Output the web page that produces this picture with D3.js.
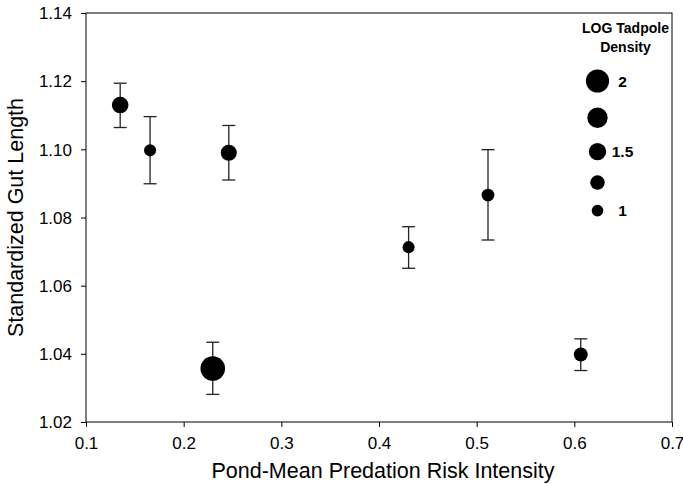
<!DOCTYPE html>
<html><head><meta charset="utf-8">
<script src="https://cdn.jsdelivr.net/npm/d3@7"></script>
<style>body{margin:0;background:#fff}svg{display:block}text{font-family:"Liberation Sans",Arial,sans-serif}</style>
</head><body>
<script>
const riskIntensity = [0.135, 0.1656, 0.2462, 0.2298, 0.4303, 0.5116, 0.6066];
const gutLength     = [1.1130, 1.0997, 1.0990, 1.0357, 1.0713, 1.0866, 1.0398];
const errUpper      = [1.1194, 1.1096, 1.1070, 1.0434, 1.0773, 1.0999, 1.0444];
const errLower      = [1.1064, 1.0899, 1.0910, 1.0281, 1.0651, 1.0734, 1.0351];
const logDensity    = [1.43, 1.04, 1.38, 2.12, 1.04, 1.1, 1.2];
const xTicks = [0.1, 0.2, 0.3, 0.4, 0.5, 0.6, 0.7];
const yTicks = [1.02, 1.04, 1.06, 1.08, 1.10, 1.12, 1.14];
const legendValues = [2, 1.75, 1.5, 1.25, 1];
const legendLabels = ["2", "", "1.5", "", "1"];

const W = 683, H = 484;
const m = {l: 86, r: 11, t: 13, b: 62};
const svg = d3.select("body").append("svg").attr("width", W).attr("height", H);
const x = d3.scaleLinear().domain([0.1, 0.7]).range([m.l, W - m.r]);
const y = d3.scaleLinear().domain([1.02, 1.14]).range([H - m.b, m.t]);
const r = d3.scaleLinear().domain([0, 2]).range([0, 11.6]);

// frame
svg.append("rect").attr("x", m.l).attr("y", m.t).attr("width", W - m.r - m.l).attr("height", H - m.b - m.t)
  .attr("fill", "none").attr("stroke", "#000").attr("stroke-width", 1);

const xa = svg.append("g").attr("transform", `translate(0,${H - m.b})`)
  .call(d3.axisBottom(x).tickValues(xTicks).tickFormat(d3.format(".1f")).tickSize(5).tickPadding(10).tickSizeOuter(0));
const ya = svg.append("g").attr("transform", `translate(${m.l},0)`)
  .call(d3.axisLeft(y).tickValues(yTicks).tickFormat(d3.format(".2f")).tickSize(5).tickPadding(9).tickSizeOuter(0));
[xa, ya].forEach(a => {
  a.select(".domain").remove();
  a.selectAll("line").attr("stroke", "#000");
  a.selectAll("text").attr("font-size", 17).attr("fill", "#000")
    .attr("font-family", '"Liberation Sans",Arial,sans-serif');
});
xa.selectAll("text").attr("dy", "0.71em");
ya.selectAll("text").attr("dy", "0.34em");

svg.append("text").attr("x", 383).attr("y", 478).attr("text-anchor", "middle")
  .attr("font-size", 21.5).text("Pond-Mean Predation Risk Intensity");
svg.append("text").attr("transform", `translate(23,${(m.t + H - m.b) / 2}) rotate(-90)`)
  .attr("text-anchor", "middle").attr("font-size", 21.5).text("Standardized Gut Length");

const data = riskIntensity.map((d, i) => ({x: d, y: gutLength[i], hi: errUpper[i], lo: errLower[i], s: logDensity[i]}));
const g = svg.append("g");
const cap = 6.5;
data.forEach(d => {
  const cx = x(d.x);
  g.append("line").attr("x1", cx).attr("x2", cx).attr("y1", y(d.hi)).attr("y2", y(d.lo)).attr("stroke", "#222").attr("stroke-width", 1.3);
  [d.hi, d.lo].forEach(v => g.append("line").attr("x1", cx - cap).attr("x2", cx + cap).attr("y1", y(v)).attr("y2", y(v)).attr("stroke", "#222").attr("stroke-width", 1.3));
  g.append("circle").attr("cx", cx).attr("cy", y(d.y)).attr("r", r(d.s)).attr("fill", "#000");
});

// legend
const lg = svg.append("g");
lg.append("text").attr("x", 625.5).attr("y", 33).attr("text-anchor", "middle").attr("font-size", 14).attr("font-weight", "bold").text("LOG Tadpole");
lg.append("text").attr("x", 625.5).attr("y", 52).attr("text-anchor", "middle").attr("font-size", 14).attr("font-weight", "bold").text("Density");
let ly = 81 - r(legendValues[0]);
legendValues.forEach((v, i) => {
  if (i > 0) ly += 15;
  const cy = ly + r(v);
  ly = cy + r(v);
  lg.append("circle").attr("cx", 597.5).attr("cy", cy).attr("r", r(v)).attr("fill", "#000");
  lg.append("text").attr("x", 622.5).attr("y", cy).attr("dy", "0.36em").attr("text-anchor", "middle")
    .attr("font-size", 15.5).attr("font-weight", "bold").text(legendLabels[i]);
});
</script>
</body></html>
